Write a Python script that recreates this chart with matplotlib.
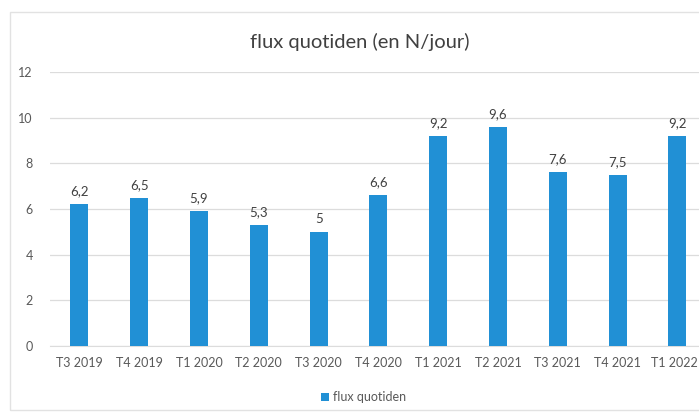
import matplotlib
matplotlib.use("Agg")
import matplotlib.pyplot as plt
import matplotlib.transforms as mtransforms
from matplotlib.patches import Rectangle

# data
quarters = ["T3 2019", "T4 2019", "T1 2020", "T2 2020", "T3 2020", "T4 2020",
            "T1 2021", "T2 2021", "T3 2021", "T4 2021", "T1 2022"]
flux = [6.2, 6.5, 5.9, 5.3, 5.0, 6.6, 9.2, 9.6, 7.6, 7.5, 9.2]
y_ticks = [0, 2, 4, 6, 8, 10, 12]

BLUE = "#2190d5"
GRID = "#dcdcdc"
TXT = "#595959"

plt.rcParams['font.family'] = ['Lato', 'DejaVu Sans']

fig = plt.figure(figsize=(6.99, 4.15), dpi=100)
fig.patch.set_facecolor("white")

# chart area border (light)
fig.patches.append(Rectangle((10 / 699, 1 - 410 / 415), 1.2, (410 - 12) / 415,
                             transform=fig.transFigure, fill=False,
                             edgecolor="#e2e2e2", linewidth=1.0))

ax = fig.add_axes([49.5 / 699, 1 - 346 / 415, 1 - 49.5 / 699, (346 - 72) / 415])
x = list(range(len(quarters)))
bars = ax.bar(x, flux, width=0.3, color=BLUE, label="flux quotiden", zorder=3)

for xi, v in zip(x, flux):
    lbl = ("%g" % v).replace(".", ",")
    ax.text(xi, v + 0.3, lbl, ha="center", va="bottom", fontsize=9.5, color="#404040")

ax.set_xlim(-0.5, 10.36)
ax.set_ylim(0, 12)
ax.set_yticks(y_ticks)
ax.set_xticks(x)
ax.set_xticklabels(quarters)
ax.tick_params(axis="both", length=0, labelsize=9, colors=TXT)
ax.tick_params(axis="x", pad=8)
ax.tick_params(axis="y", pad=12)
ax.grid(axis="y", color=GRID, linewidth=0.9, zorder=0)
for s in ["top", "right", "left"]:
    ax.spines[s].set_visible(False)
ax.spines["bottom"].set_color(GRID)

# last label sits right at the edge, pull it in a little
last = ax.get_xticklabels()[-1]
last.set_transform(last.get_transform() + mtransforms.ScaledTranslation(-3 / 100, 0, fig.dpi_scale_trans))

fig.text(0.515, 1 - 42 / 415, "flux quotiden (en N/jour)", ha="center", va="center",
         fontsize=14.5, color="#404040")

fig.legend(handles=[bars], labels=["flux quotiden"], loc="center",
           bbox_to_anchor=(0.52, 1 - 397 / 415), frameon=False, fontsize=9,
           handlelength=0.6, handleheight=0.6, handletextpad=0.3, labelcolor=TXT)

fig.savefig("out.png", dpi=100)
